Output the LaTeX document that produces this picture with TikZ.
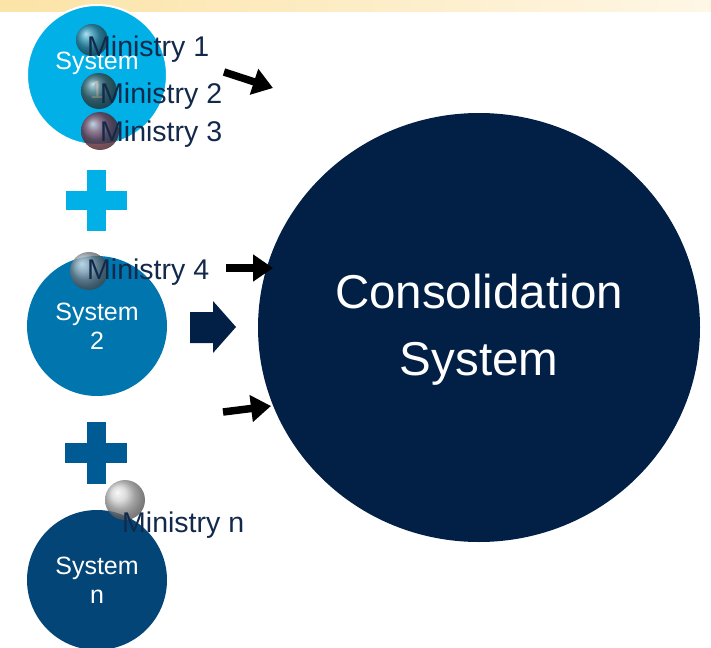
\documentclass[tikz,border=0pt]{standalone}
\usepackage{fontspec}
\setmainfont{Liberation Sans}
\usetikzlibrary{arrows.meta,shapes.geometric}
\definecolor{bannerL}{RGB}{252,227,166}
\definecolor{bannerR}{RGB}{254,247,230}
\definecolor{sysone}{RGB}{0,176,230}
\definecolor{systwo}{RGB}{0,117,174}
\definecolor{sysn}{RGB}{3,69,119}
\definecolor{consol}{RGB}{2,31,69}
\definecolor{plusdark}{RGB}{0,90,148}
\definecolor{mintext}{RGB}{19,41,75}
\definecolor{ballA}{RGB}{70,140,165}
\definecolor{ballB}{RGB}{85,95,95}
\definecolor{ballC}{RGB}{160,60,80}
\definecolor{ballD}{RGB}{160,170,180}
\definecolor{ballE}{RGB}{195,195,195}
\tikzset{
  sysnode/.style={circle,minimum size=140pt,inner sep=0pt,text=white,align=center,
    font=\fontsize{25}{29}\selectfont},
  mball/.style={circle,inner sep=0pt,shading=ball,opacity=0.78},
  mtext/.style={anchor=west,inner sep=0pt,text=mintext,font=\fontsize{28.5}{31}\selectfont},
  blackarrow/.style={line width=7.5pt,-{Triangle[length=20pt,width=26pt]}},
}
\begin{document}
\begin{tikzpicture}[x=1pt,y=-1pt]
\useasboundingbox (0,0) rectangle (711,647);
% banner
\shade[left color=bannerL,right color=bannerR] (0,0) rectangle (711,12);
% consolidation
\node[ellipse,fill=consol,minimum width=442pt,minimum height=429pt,inner sep=0pt] (cons) at (479,327.5) {};
\node[text=white,align=center,font=\fontsize{47.5}{67}\selectfont] (constext) at (479,330) {Consolidation\\System};
% systems
\node[sysnode,fill=sysone,draw=white,line width=2pt] (s1) at (97,75) {System\\1};
\node[sysnode,fill=systwo] (s2) at (97,326) {System\\2};
\node[sysnode,fill=sysn] (sn) at (97,580) {System\\n};
% plus signs
\fill[sysone] (87,170) rectangle (106,231);
\fill[sysone] (66,191) rectangle (127,210);
\fill[plusdark] (87,422) rectangle (106,484);
\fill[plusdark] (65,443) rectangle (127,463);
% ministry balls
\node[mball,ball color=ballA,minimum size=32pt] (b1) at (92,40) {};
\node[mball,ball color=ballB,minimum size=36pt] (b2) at (99,91) {};
\node[mball,ball color=ballC,minimum size=38pt] (b3) at (100,131) {};
\node[mball,ball color=ballD,minimum size=38pt] (b4) at (89,271) {};
\node[mball,ball color=ballE,minimum size=40pt] (bn) at (125,500) {};
% ministry texts
\node[mtext] (m1) at (87,49) {Ministry 1};
\node[mtext] (m2) at (100,96) {Ministry 2};
\node[mtext] (m3) at (100,134) {Ministry 3};
\node[mtext] (m4) at (87,272) {Ministry 4};
\node[mtext] (mn) at (122,525) {Ministry n};
% black arrows
\coordinate (a1s) at (224,72);
\coordinate (a1e) at (273,88);
\coordinate (a2s) at (226,268);
\coordinate (a2e) at (273,268);
\coordinate (a3s) at (223,412);
\coordinate (a3e) at (271,406);
\draw[blackarrow] (a1s) -- (a1e);
\draw[blackarrow] (a2s) -- (a2e);
\draw[blackarrow] (a3s) -- (a3e);
% block arrow
\fill[consol] (190,312) -- (213,312) -- (213,301) -- (236,327) -- (213,353) -- (213,343) -- (190,343) -- cycle;
\end{tikzpicture}
\end{document}
